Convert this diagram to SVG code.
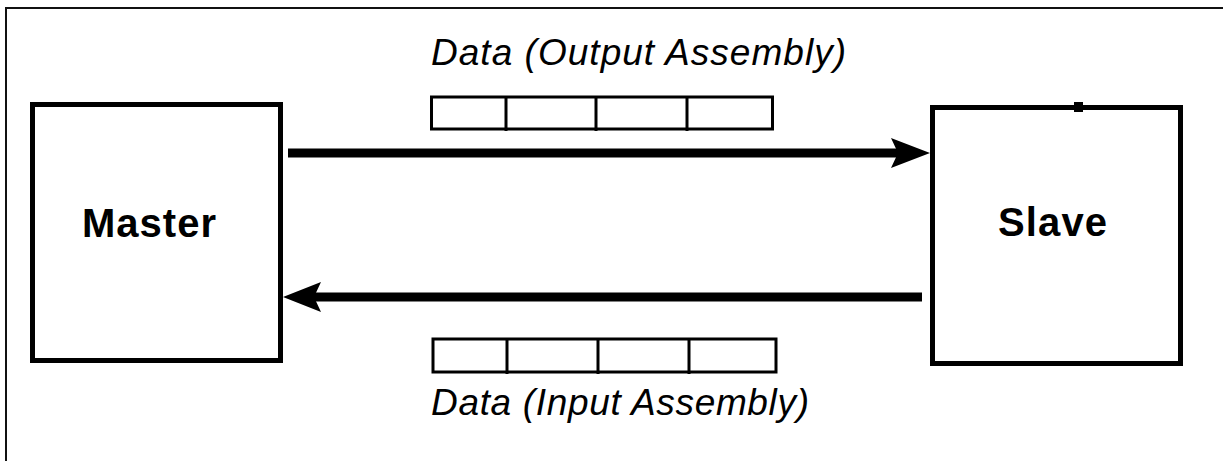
<svg xmlns="http://www.w3.org/2000/svg" width="1223" height="461" viewBox="0 0 1223 461">
<style>
.frame{fill:none;stroke:#111;stroke-width:2}
.box{fill:#fff;stroke:#000;stroke-width:5}
.cell{fill:#fff;stroke:#000;stroke-width:3}
.div{stroke:#000;stroke-width:3}
.shaft{stroke:#000;stroke-width:9;fill:none}
.head{fill:#000}
.lbl{font-family:"Liberation Sans",Arial,sans-serif;font-weight:bold;font-size:40px;fill:#000}
.data{font-family:"Liberation Sans",Arial,sans-serif;font-style:italic;font-size:37px;fill:#000}
</style>
<rect width="1223" height="461" fill="#fff"/>
<rect class="frame" x="6" y="8" width="1240" height="480"/>
<g id="master">
<rect class="box" x="32.5" y="104.5" width="248" height="256"/>
<text class="lbl" x="82" y="237" textLength="134" lengthAdjust="spacing">Master</text>
</g>
<g id="slave">
<rect class="box" x="932.5" y="107.5" width="248" height="256"/>
<rect x="1074" y="102" width="9" height="10" fill="#000"/>
<text class="lbl" x="998" y="236" textLength="109" lengthAdjust="spacing">Slave</text>
</g>
<g id="output-assembly">
<rect class="cell" x="431.5" y="97" width="341" height="32"/>
<line class="div" x1="506" y1="97" x2="506" y2="131"/>
<line class="div" x1="596" y1="97" x2="596" y2="131"/>
<line class="div" x1="687" y1="97" x2="687" y2="131"/>
<text class="data" x="431" y="65" textLength="415" lengthAdjust="spacing">Data (Output Assembly)</text>
</g>
<g id="input-assembly">
<rect class="cell" x="433" y="339" width="343" height="33"/>
<line class="div" x1="507" y1="339" x2="507" y2="374"/>
<line class="div" x1="598" y1="339" x2="598" y2="374"/>
<line class="div" x1="689" y1="339" x2="689" y2="374"/>
<text class="data" x="431" y="415" textLength="378" lengthAdjust="spacing">Data (Input Assembly)</text>
</g>
<g id="connectors">
<line class="shaft" x1="288" y1="153" x2="900" y2="153"/>
<polygon class="head" points="930,153 891,138 898,153 891,168"/>
<line class="shaft" x1="922" y1="297" x2="312" y2="297"/>
<polygon class="head" points="283,297 321,282 314,297 321,312"/>
</g>
</svg>
